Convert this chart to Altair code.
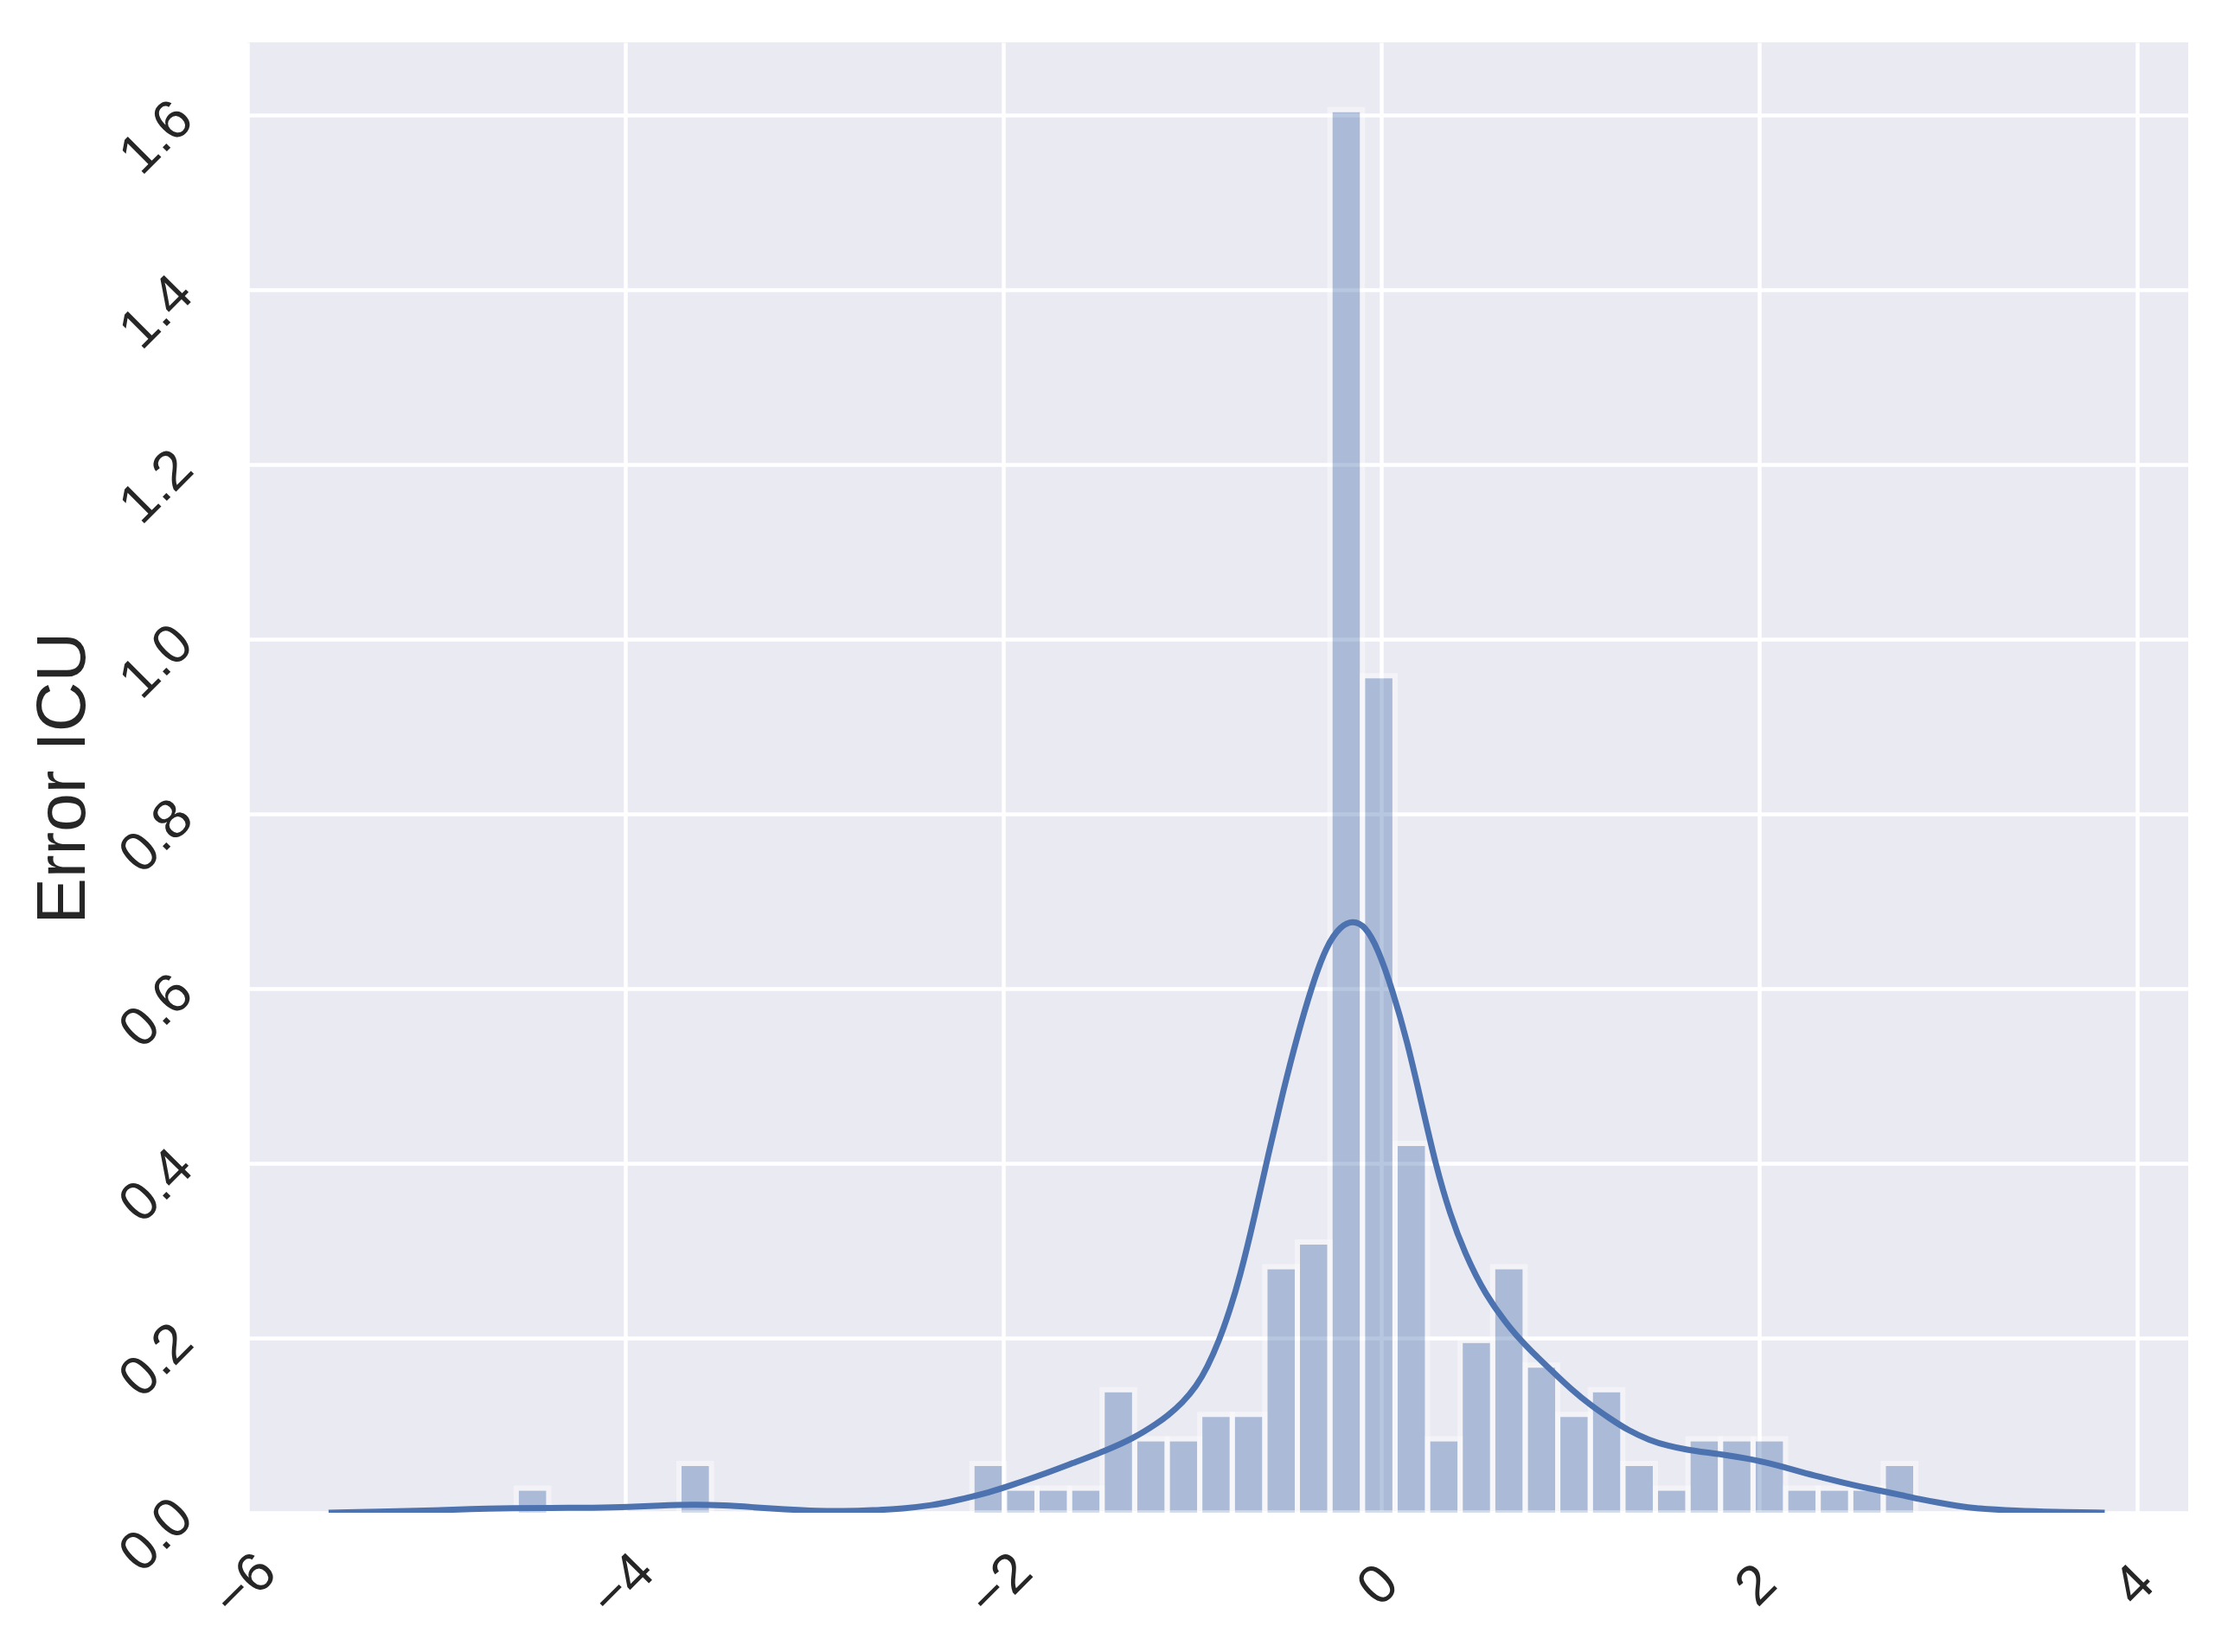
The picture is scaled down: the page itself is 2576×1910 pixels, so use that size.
import altair as alt
import pandas as pd

# Histogram (density-normalised counts per bin)
bin_start = -4.577
bin_width = 0.17226
counts = [1, 0, 0, 0, 0, 2, 0, 0, 0, 0, 0, 0, 0, 0,
          2, 1, 1, 1, 5, 3, 3, 4, 4, 10, 11, 57, 34, 15,
          3, 7, 10, 6, 4, 5, 2, 1, 3, 3, 3, 1, 1, 1, 2]

# KDE curve points
kde_x = [-5.57, -5.29, -5.10, -4.95, -4.77, -4.60, -4.40, -4.16, -3.98, -3.82,
         -3.64, -3.48, -3.32, -3.16, -2.98, -2.85, -2.69, -2.53, -2.37, -2.27,
         -2.06, -1.95, -1.80, -1.63, -1.47, -1.31, -1.18, -1.13, -1.05, -0.977,
         -0.92, -0.855, -0.80, -0.748, -0.672, -0.595, -0.519, -0.443, -0.366, -0.290,
         -0.214, -0.148, -0.085, -0.016, 0.061, 0.137, 0.213, 0.289, 0.366, 0.442,
         0.549, 0.70, 0.80, 0.906, 1.008, 1.11, 1.21, 1.31, 1.42, 1.52,
         1.62, 1.72, 1.83, 1.93, 2.03, 2.13, 2.23, 2.34, 2.44, 2.54,
         2.64, 2.75, 2.85, 2.95, 3.05, 3.15, 3.36, 3.56, 3.83]
kde_y = [0.0, 0.0012, 0.0022, 0.0032, 0.0045, 0.0053, 0.0055, 0.0057, 0.0064, 0.0082,
         0.0095, 0.0086, 0.0063, 0.0040, 0.0020, 0.0017, 0.0027, 0.0047, 0.0088, 0.013,
         0.024, 0.032, 0.043, 0.057, 0.070, 0.085, 0.103, 0.111, 0.126, 0.145,
         0.166, 0.198, 0.232, 0.269, 0.336, 0.412, 0.482, 0.546, 0.603, 0.649,
         0.672, 0.678, 0.672, 0.646, 0.598, 0.541, 0.470, 0.398, 0.341, 0.298,
         0.250, 0.206, 0.184, 0.162, 0.141, 0.123, 0.108, 0.094, 0.083, 0.0765,
         0.072, 0.069, 0.066, 0.0624, 0.058, 0.0524, 0.0462, 0.0402, 0.0346, 0.0297,
         0.0254, 0.0204, 0.0155, 0.0115, 0.0079, 0.0049, 0.0023, 0.0010, 0.0]

x_ticks = [-6, -4, -2, 0, 2, 4]
y_ticks = [0.0, 0.2, 0.4, 0.6, 0.8, 1.0, 1.2, 1.4, 1.6]

n_total = sum(counts)
rows = []
for k, c in enumerate(counts):
    if c > 0:
        lo = bin_start + k * bin_width
        rows.append({"lo": lo, "hi": lo + bin_width, "density": c / (n_total * bin_width)})
hist = pd.DataFrame(rows)
kde = pd.DataFrame({"lo": kde_x, "density": kde_y})

xscale = alt.Scale(domain=[-6, 4.272], nice=False, zero=False)
yscale = alt.Scale(domain=[0, 1.6832], nice=False, zero=False)

blue = "#4C72B0"
font = "Liberation Sans"

xaxis = alt.Axis(values=x_ticks, title=None, format="d", labelAngle=315,
                 labelAlign="center", labelBaseline="middle", labelPadding=84,
                 labelOffset=-3, labelOverlap=False, labelBound=False, labelFlush=False)
yaxis = alt.Axis(values=y_ticks, title="Error ICU", format=".1f", labelAngle=315,
                 labelAlign="center", labelBaseline="middle", labelPadding=105,
                 labelOffset=26, labelOverlap=False, labelFlush=False,
                 titleAngle=270, titleX=-189, titleY=850, titleAlign="center",
                 titleBaseline="alphabetic")

enc = dict(
    x=alt.X("lo:Q", scale=xscale, axis=xaxis),
    x2="hi:Q",
    y=alt.Y("density:Q", scale=yscale, axis=yaxis),
    y2=alt.datum(0),
)

bar_fill = alt.Chart(hist).mark_rect(
    fill=blue, fillOpacity=0.4, xOffset=3, x2Offset=-3, yOffset=3, clip=True
).encode(**enc)

bar_edge = alt.Chart(hist).mark_rect(
    fillOpacity=0, stroke="white", strokeOpacity=0.4, strokeWidth=6, clip=True
).encode(**enc)

line = alt.Chart(kde).mark_line(
    color=blue, strokeWidth=7, interpolate="basis", clip=True
).encode(
    x=alt.X("lo:Q", scale=xscale, axis=xaxis),
    y=alt.Y("density:Q", scale=yscale, axis=yaxis),
)

chart = alt.layer(bar_fill, bar_edge, line).properties(
    width=2244, height=1700,
    autosize=alt.AutoSizeParams(type="none"),
    padding={"left": 278, "top": 41, "right": 38, "bottom": 153},
    background="white",
).configure_view(
    fill="#EAEAF2", strokeWidth=0
).configure_axis(
    grid=True, gridColor="white", gridWidth=4.5, gridOpacity=1,
    domain=False, ticks=False, tickSize=0,
    labelFont=font, labelFontSize=64, labelColor="#262626",
    titleFont=font, titleFontSize=80, titleColor="#262626", titleFontWeight="normal",
)

chart.save("out.html", embed_options={"renderer": "svg", "actions": False})
